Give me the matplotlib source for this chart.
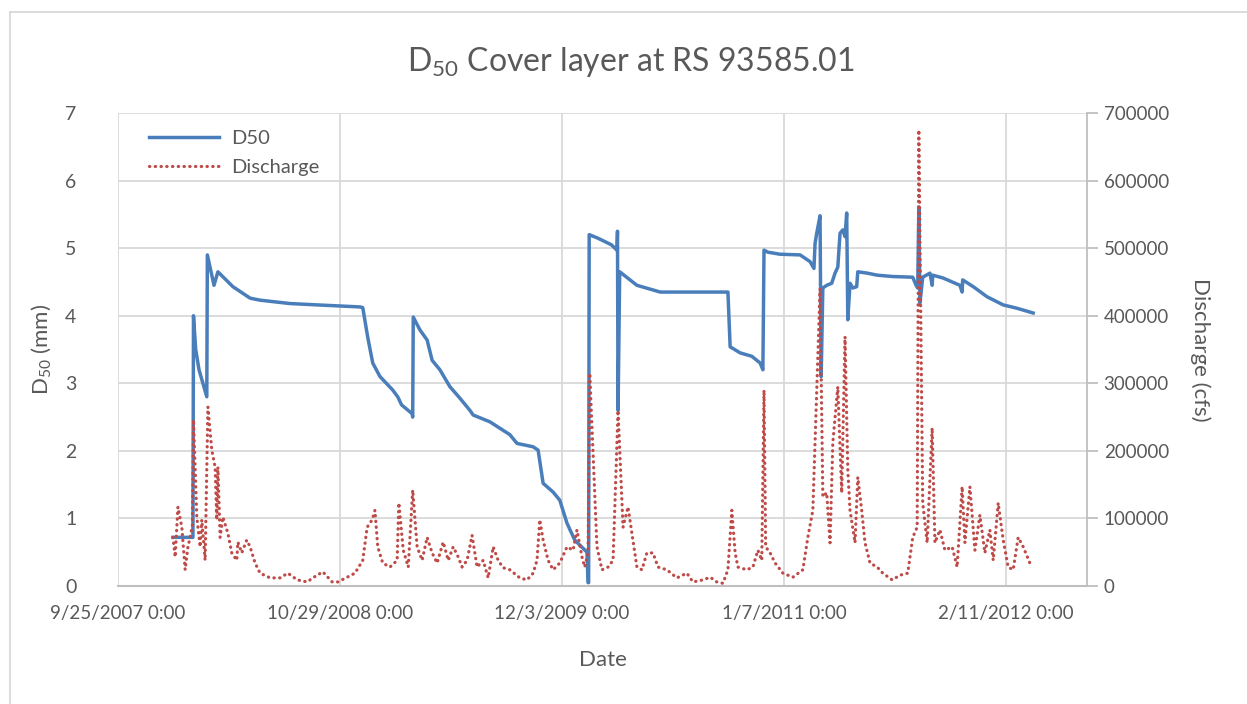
import pandas as pd
import matplotlib.pyplot as plt
from matplotlib.lines import Line2D

plt.rcParams['font.family'] = ['Lato', 'DejaVu Sans']
plt.rcParams['mathtext.fontset'] = 'custom'
plt.rcParams['mathtext.rm'] = 'Lato'

# ---------------- data ----------------
d50_dates = [
    '2008-01-02', '2008-02-07', '2008-02-08', '2008-02-12', '2008-02-18', '2008-02-25',
    '2008-03-03', '2008-03-04', '2008-03-16', '2008-03-23', '2008-04-19', '2008-05-20',
    '2008-06-07', '2008-07-31', '2008-09-18', '2008-12-04', '2008-12-09', '2008-12-18',
    '2008-12-27', '2009-01-09', '2009-02-01', '2009-02-10', '2009-02-17', '2009-03-08',
    '2009-03-09', '2009-03-10', '2009-03-22', '2009-04-04', '2009-04-13', '2009-04-27',
    '2009-05-15', '2009-06-02', '2009-06-20', '2009-06-26', '2009-07-26', '2009-08-31',
    '2009-09-13', '2009-10-12', '2009-10-21', '2009-10-30', '2009-11-17', '2009-11-29',
    '2009-12-12', '2009-12-26', '2010-01-17', '2010-01-19', '2010-01-20', '2010-01-21',
    '2010-02-05', '2010-03-02', '2010-03-12', '2010-03-13', '2010-03-14', '2010-03-17',
    '2010-04-17', '2010-05-29', '2010-09-28', '2010-10-02', '2010-10-20', '2010-11-10',
    '2010-11-25', '2010-11-30', '2010-12-02', '2010-12-09', '2010-12-31', '2011-02-05',
    '2011-02-23', '2011-03-02', '2011-03-04', '2011-03-07', '2011-03-13', '2011-03-15',
    '2011-03-18', '2011-03-25', '2011-04-03', '2011-04-09', '2011-04-14', '2011-04-18',
    '2011-04-23', '2011-04-27', '2011-04-30', '2011-05-02', '2011-05-06', '2011-05-11',
    '2011-05-18', '2011-05-20', '2011-06-06', '2011-06-24', '2011-07-22', '2011-08-27',
    '2011-09-02', '2011-09-05', '2011-09-07', '2011-09-09', '2011-09-14', '2011-09-27',
    '2011-10-01', '2011-10-02', '2011-10-20', '2011-11-20', '2011-11-24', '2011-11-25',
    '2011-12-14', '2012-01-08', '2012-02-06', '2012-03-02', '2012-03-31',
]
d50_mm = [
    0.72, 0.72, 4.00, 3.50, 3.20, 3.00,
    2.80, 4.90, 4.45, 4.65, 4.43, 4.26,
    4.23, 4.18, 4.16, 4.13, 4.12, 3.68,
    3.30, 3.10, 2.90, 2.80, 2.68, 2.55,
    2.50, 3.98, 3.79, 3.64, 3.34, 3.20,
    2.95, 2.78, 2.60, 2.53, 2.43, 2.24,
    2.11, 2.06, 2.01, 1.52, 1.39, 1.27,
    0.93, 0.68, 0.50, 0.05, 0.05, 5.20,
    5.15, 5.05, 4.97, 5.25, 2.60, 4.65,
    4.45, 4.35, 4.35, 3.54, 3.45, 3.40,
    3.30, 3.20, 4.97, 4.94, 4.91, 4.90,
    4.80, 4.70, 5.07, 5.22, 5.48, 3.10,
    4.41, 4.45, 4.48, 4.63, 4.72, 5.22,
    5.27, 5.17, 5.52, 3.94, 4.48, 4.41,
    4.43, 4.65, 4.63, 4.60, 4.58, 4.57,
    4.45, 4.41, 5.61, 4.19, 4.57, 4.63,
    4.45, 4.60, 4.56, 4.45, 4.35, 4.53,
    4.43, 4.28, 4.16, 4.11, 4.04,
]

q_dates = [
    '2008-01-02', '2008-01-06', '2008-01-11', '2008-01-18', '2008-01-24', '2008-01-29',
    '2008-02-02', '2008-02-06', '2008-02-08', '2008-02-14', '2008-02-20', '2008-02-23',
    '2008-02-29', '2008-03-05', '2008-03-12', '2008-03-18', '2008-03-21', '2008-03-23',
    '2008-03-27', '2008-04-01', '2008-04-10', '2008-04-17', '2008-04-26', '2008-04-28',
    '2008-05-05', '2008-05-14', '2008-05-20', '2008-05-29', '2008-06-07', '2008-06-25',
    '2008-07-13', '2008-07-27', '2008-08-13', '2008-08-31', '2008-09-10', '2008-09-28',
    '2008-10-15', '2008-10-25', '2008-11-11', '2008-11-25', '2008-12-09', '2008-12-17',
    '2008-12-26', '2008-12-31', '2009-01-05', '2009-01-14', '2009-01-27', '2009-02-09',
    '2009-02-12', '2009-02-20', '2009-03-01', '2009-03-09', '2009-03-17', '2009-03-26',
    '2009-04-04', '2009-04-13', '2009-04-22', '2009-05-03', '2009-05-12', '2009-05-21',
    '2009-05-30', '2009-06-06', '2009-06-15', '2009-06-24', '2009-07-03', '2009-07-14',
    '2009-07-23', '2009-08-01', '2009-08-10', '2009-08-19', '2009-08-31', '2009-09-18',
    '2009-10-01', '2009-10-12', '2009-10-19', '2009-10-24', '2009-10-30', '2009-11-08',
    '2009-11-17', '2009-11-29', '2009-12-12', '2009-12-23', '2009-12-30', '2010-01-08',
    '2010-01-13', '2010-01-19', '2010-01-22', '2010-02-04', '2010-02-13', '2010-02-24',
    '2010-03-05', '2010-03-14', '2010-03-21', '2010-03-23', '2010-04-01', '2010-04-08',
    '2010-04-17', '2010-04-26', '2010-05-05', '2010-05-16', '2010-05-25', '2010-06-10',
    '2010-06-28', '2010-07-16', '2010-07-27', '2010-08-14', '2010-08-27', '2010-09-08',
    '2010-09-19', '2010-09-28', '2010-10-05', '2010-10-11', '2010-10-16', '2010-11-01',
    '2010-11-12', '2010-11-21', '2010-11-28', '2010-12-02', '2010-12-05', '2010-12-13',
    '2010-12-22', '2011-01-05', '2011-01-23', '2011-02-10', '2011-02-19', '2011-02-28',
    '2011-03-07', '2011-03-13', '2011-03-18', '2011-03-25', '2011-03-31', '2011-04-05',
    '2011-04-14', '2011-04-21', '2011-04-27', '2011-05-02', '2011-05-06', '2011-05-15',
    '2011-05-20', '2011-05-27', '2011-06-02', '2011-06-11', '2011-06-24', '2011-07-04',
    '2011-07-21', '2011-08-04', '2011-08-18', '2011-08-27', '2011-09-04', '2011-09-07',
    '2011-09-14', '2011-09-22', '2011-10-01', '2011-10-06', '2011-10-15', '2011-10-24',
    '2011-11-06', '2011-11-15', '2011-11-24', '2011-11-29', '2011-12-08', '2011-12-17',
    '2011-12-26', '2012-01-04', '2012-01-13', '2012-01-19', '2012-01-28', '2012-02-06',
    '2012-02-15', '2012-02-24', '2012-03-04', '2012-03-13', '2012-03-25', '2012-03-31',
]
q_cfs = [
    72000, 43000, 117000, 87000, 24000, 58000,
    72000, 90000, 246000, 102000, 58000, 98000,
    38000, 265000, 201000, 176000, 98000, 176000,
    72000, 102000, 78000, 49000, 38000, 65000,
    49000, 68000, 58000, 34000, 19000, 12000,
    12000, 19000, 9000, 6000, 12000, 21000,
    6000, 6000, 13000, 19000, 38000, 87000,
    98000, 112000, 58000, 34000, 28000, 38000,
    123000, 53000, 28000, 142000, 58000, 38000,
    72000, 49000, 34000, 65000, 38000, 58000,
    43000, 28000, 38000, 75000, 28000, 38000,
    12000, 58000, 38000, 27000, 24000, 12000,
    9000, 19000, 38000, 98000, 68000, 38000,
    24000, 34000, 58000, 53000, 83000, 43000,
    28000, 49000, 315000, 58000, 24000, 28000,
    38000, 260000, 123000, 87000, 117000, 78000,
    28000, 24000, 49000, 49000, 28000, 24000,
    12000, 19000, 6000, 9000, 13000, 6000,
    4000, 24000, 112000, 49000, 28000, 24000,
    28000, 53000, 38000, 290000, 58000, 49000,
    34000, 19000, 13000, 24000, 72000, 112000,
    290000, 440000, 132000, 138000, 64000, 212000,
    295000, 138000, 369000, 172000, 112000, 64000,
    161000, 112000, 64000, 34000, 28000, 19000,
    9000, 16000, 19000, 72000, 87000, 675000,
    123000, 64000, 234000, 64000, 83000, 53000,
    58000, 28000, 147000, 64000, 147000, 53000,
    105000, 49000, 83000, 38000, 123000, 68000,
    28000, 24000, 72000, 58000, 34000, 30000,
]

x_ticks = ['2007-09-25', '2008-10-29', '2009-12-03', '2011-01-07', '2012-02-11']
x_tick_labels = ['9/25/2007 0:00', '10/29/2008 0:00', '12/3/2009 0:00',
                 '1/7/2011 0:00', '2/11/2012 0:00']

# ---------------- plotting ----------------
txt = '#595959'
grid = '#D9D9D9'
blue = '#4A7EBB'
red = '#BE4B48'
dots = (0, (0.1, 1.7))

fig = plt.figure(figsize=(12.47, 7.04), dpi=100)
ax = fig.add_axes([118 / 1247, 1 - 586 / 704, (1087 - 118) / 1247, (586 - 113) / 704])
ax2 = ax.twinx()

ax.plot(pd.to_datetime(d50_dates), d50_mm, color=blue, lw=2.5, solid_joinstyle='round')
ax2.plot(pd.to_datetime(q_dates), q_cfs, color=red, lw=2.3, linestyle=dots,
         dash_capstyle='round')

ax.set_xlim(pd.Timestamp('2007-09-25'), pd.Timestamp('2012-07-06'))
ax.set_ylim(0, 7)
ax2.set_ylim(0, 700000)
ax.set_yticks(range(0, 8))
ax2.set_yticks(range(0, 700001, 100000))
ax.set_xticks(pd.to_datetime(x_ticks))
ax.set_xticklabels(x_tick_labels)

ax.grid(True, color=grid, lw=1.3)
ax.set_axisbelow(True)
for a in (ax, ax2):
    for s in a.spines.values():
        s.set_visible(False)
ax.spines['bottom'].set_visible(True)
ax.spines['bottom'].set_color('#BFBFBF')
ax.spines['bottom'].set_linewidth(1.5)
ax2.spines['right'].set_visible(True)
ax2.spines['right'].set_color('#BFBFBF')
ax2.spines['right'].set_linewidth(1.3)

ax.tick_params(axis='x', length=0, pad=14, labelsize=13.5, labelcolor=txt)
ax.tick_params(axis='y', length=0, pad=30, labelsize=14, labelcolor=txt)
ax2.tick_params(axis='y', length=8, width=1.3, color='#BFBFBF', pad=4,
                labelsize=13.5, labelcolor=txt)

ax.set_xlabel('Date', fontsize=16, color=txt, labelpad=20)
ax.set_ylabel(r'D$_{50}$ (mm)', fontsize=16, color=txt, labelpad=8)
ax2.set_ylabel('Discharge (cfs)', fontsize=16, color=txt, rotation=270, labelpad=30)

fig.text(0.506, 0.912, r'D$_{50}$ Cover layer at RS 93585.01', ha='center', va='center',
         fontsize=23, color=txt)

handles = [Line2D([], [], color=blue, lw=2.5),
           Line2D([], [], color=red, lw=2.3, linestyle=dots, dash_capstyle='round')]
leg = ax.legend(handles, ['D50', 'Discharge'], loc='upper left', bbox_to_anchor=(0.013, 1.003),
                frameon=False, fontsize=14.5, handlelength=3.5, handletextpad=0.6,
                labelspacing=0.6)
for t in leg.get_texts():
    t.set_color(txt)

# chart outer border
fig.add_artist(Line2D([10 / 1247, 10 / 1247], [0, 1 - 12 / 704], transform=fig.transFigure,
                      color=grid, lw=1.3))
fig.add_artist(Line2D([10 / 1247, 1], [1 - 12 / 704, 1 - 12 / 704], transform=fig.transFigure,
                      color=grid, lw=1.3))

fig.savefig('out.png', dpi=100)
